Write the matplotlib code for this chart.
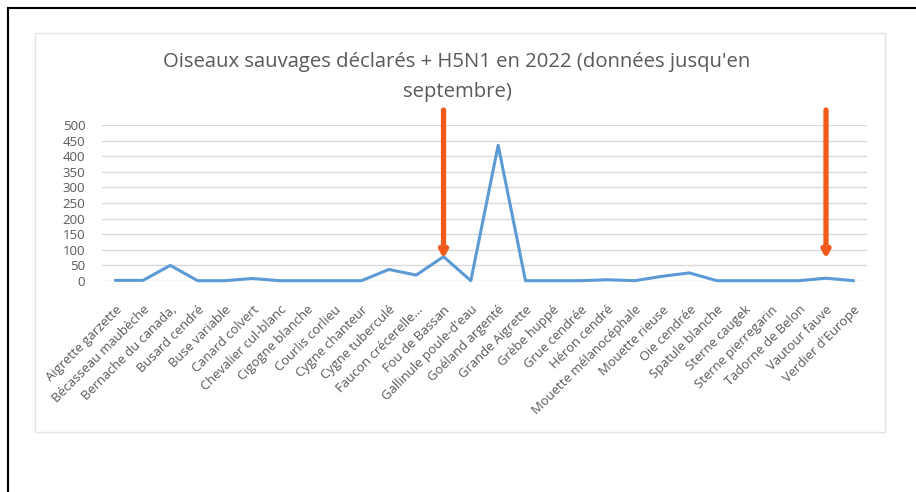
import matplotlib
matplotlib.use("Agg")
import matplotlib.pyplot as plt
from matplotlib.patches import Rectangle
from matplotlib.lines import Line2D

# --- data ---
species = [
    "Aigrette garzette", "Bécasseau maubèche", "Bernache du canada,",
    "Busard cendré", "Buse variable", "Canard colvert", "Chevalier cul-blanc",
    "Cigogne blanche", "Courlis corlieu", "Cygne chanteur", "Cygne tuberculé",
    "Faucon crécerelle...", "Fou de Bassan", "Gallinule poule-d'eau",
    "Goéland argenté", "Grande Aigrette", "Grèbe huppé", "Grue cendrée",
    "Héron cendré", "Mouette mélanocéphale", "Mouette rieuse", "Oie cendrée",
    "Spatule blanche", "Sterne caugek", "Sterne pierregarin",
    "Tadorne de Belon", "Vautour fauve", "Verdier d'Europe",
]
counts = [2, 2, 50, 1, 1, 8, 1, 1, 1, 1, 37, 19, 78, 1,
          435, 1, 1, 1, 4, 1, 15, 26, 1, 1, 1, 1, 9, 1]
yticks = [0, 50, 100, 150, 200, 250, 300, 350, 400, 450, 500]
arrow_targets = ["Fou de Bassan", "Vautour fauve"]

TITLE = "Oiseaux sauvages déclarés + H5N1 en 2022 (données jusqu'en\nseptembre)"
GREY = "#595959"
BLUE = "#5b9bd5"
ORANGE = "#f25a1c"

W, H = 916, 492
plt.rcParams['font.family'] = ['Open Sans', 'DejaVu Sans']

fig = plt.figure(figsize=(W / 100, H / 100), dpi=100)

# black frame (top / left) and light chart-area box
fig.add_artist(Line2D([8 / W, 8 / W], [0, 1 - 8 / H], color="black", lw=1.5))
fig.add_artist(Line2D([8 / W, 1], [1 - 8 / H, 1 - 8 / H], color="black", lw=1.5))
fig.add_artist(Rectangle((35 / W, 1 - 432 / H), 850 / W, 399 / H,
                         facecolor="white", edgecolor="#e4e4e4", lw=1, zorder=-1))

ax = fig.add_axes([102 / W, 1 - 281 / H, 765 / W, 156 / H])
ax.set_facecolor("none")
x = list(range(len(species)))
ax.plot(x, counts, color=BLUE, lw=2.2, clip_on=False, zorder=3)

ax.set_xlim(-0.5, len(species) - 0.5)
ax.set_ylim(0, 500)
ax.set_yticks(yticks)
ax.set_yticklabels([str(v) for v in yticks], fontsize=9.5, color=GREY)
ax.set_xticks(x)
ax.set_xticklabels(species, rotation=45, ha="right", rotation_mode="anchor",
                   fontsize=9.4, color=GREY)
ax.tick_params(axis="y", length=0, pad=12)
ax.tick_params(axis="x", length=0, pad=16)
ax.grid(axis="y", color="#d9d9d9", lw=1)
ax.set_axisbelow(True)
for s in ax.spines.values():
    s.set_visible(False)

# orange arrows pointing at two species
for name in arrow_targets:
    i = species.index(name)
    ax.annotate("", xy=(i, 72), xytext=(i, 548), annotation_clip=False,
                arrowprops=dict(arrowstyle="-|>,head_length=0.4,head_width=0.22",
                                color=ORANGE, lw=3.8, shrinkA=0, shrinkB=0),
                zorder=4)

fig.text(457 / W, 1 - 77 / H, TITLE, ha="center", va="center", fontsize=14.6,
         color=GREY, linespacing=1.6)

fig.savefig("out.png", dpi=100)
